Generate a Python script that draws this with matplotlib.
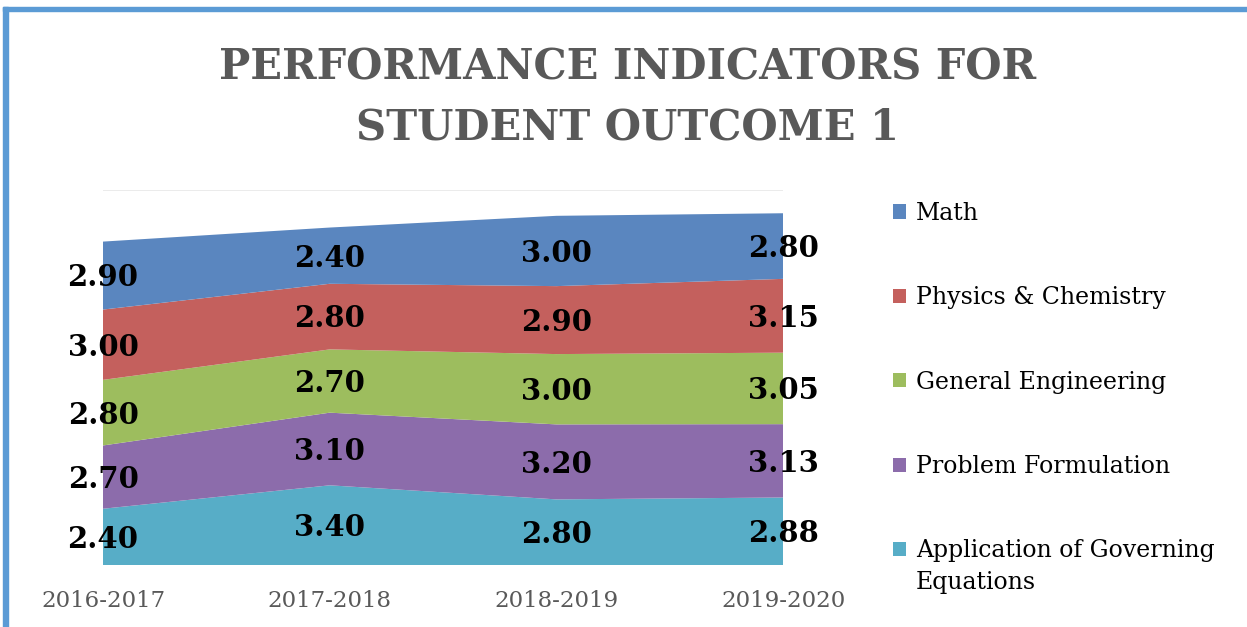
import numpy as np
import matplotlib
matplotlib.use("Agg")
import matplotlib.pyplot as plt
from matplotlib.patches import Rectangle

years = ["2016-2017", "2017-2018", "2018-2019", "2019-2020"]
governing = [2.40, 3.40, 2.80, 2.88]
formulation = [2.70, 3.10, 3.20, 3.13]
general_eng = [2.80, 2.70, 3.00, 3.05]
phys_chem = [3.00, 2.80, 2.90, 3.15]
math_vals = [2.90, 2.40, 3.00, 2.80]

series = [governing, formulation, general_eng, phys_chem, math_vals]
names = ["Application of Governing", "Problem Formulation",
         "General Engineering", "Physics & Chemistry", "Math"]
colors = ["#57adc7", "#8c6cab", "#9dbd5e", "#c4605d", "#5a86bf"]

plt.rcParams['font.family'] = ['DejaVu Serif']

fig = plt.figure(figsize=(12.47, 6.27), dpi=100)
ax = fig.add_axes([0.0826, 0.0989, 0.5454, 0.598])

x = np.arange(len(years))
ax.stackplot(x, *series, colors=colors, labels=names, zorder=2)

ax.set_xlim(0, len(years) - 1)
ax.set_ylim(0, 16)
ax.set_yticks([0, 16])
ax.yaxis.grid(True, color="#e8e8e8", linewidth=1.2, zorder=0)
ax.set_axisbelow(True)
ax.tick_params(axis="y", left=False, labelleft=False)
ax.tick_params(axis="x", length=0, pad=18, labelsize=16.5, labelcolor="#595959")
ax.set_xticks(x)
ax.set_xticklabels(years)
for s in ax.spines.values():
    s.set_visible(False)

# value labels centred in each band
bottom = np.zeros(len(years))
for vals in series:
    vals = np.array(vals)
    for i, v in enumerate(vals):
        ax.text(x[i], bottom[i] + v / 2 - 0.1, f"{v:.2f}", ha="center", va="center",
                fontsize=21, fontweight="bold", color="black", zorder=5,
                clip_on=False)
    bottom += vals

fig.text(0.503, 0.845, "PERFORMANCE INDICATORS FOR\nSTUDENT OUTCOME 1",
         ha="center", va="center", fontsize=30, fontweight="bold",
         color="#595959", linespacing=1.55)

handles, labels = ax.get_legend_handles_labels()
leg = fig.legend(handles[::-1], labels[::-1], loc="upper left",
                 bbox_to_anchor=(0.716, 0.678), frameon=False, fontsize=17,
                 handlelength=0.55, handleheight=0.55, handletextpad=0.42,
                 labelspacing=2.6, borderpad=0, borderaxespad=0)
# second line of the last legend label
fig.canvas.draw()
ax.annotate("Equations", xy=(0, 0.5), xycoords=leg.get_texts()[-1],
            xytext=(0, -23), textcoords="offset points", ha="left", va="center",
            fontsize=17, color="black", annotation_clip=False)

# blue frame on top and left
fig.patches.append(Rectangle((0.0024, 0.983), 0.9976, 0.0064, transform=fig.transFigure,
                             color="#5b9bd5", zorder=10))
fig.patches.append(Rectangle((0.0024, 0), 0.004, 0.9894, transform=fig.transFigure,
                             color="#5b9bd5", zorder=10))

fig.savefig("out.png", dpi=100)
